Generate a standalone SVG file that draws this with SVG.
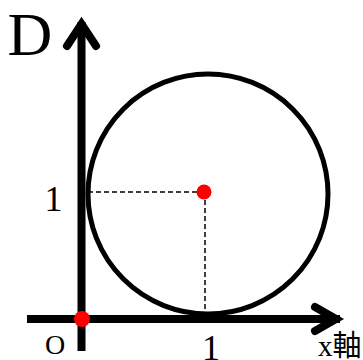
<svg xmlns="http://www.w3.org/2000/svg" width="363" height="360" viewBox="0 0 363 360">
<style>
.axis{stroke:#000;stroke-width:8;fill:none}
.head{stroke:#000;stroke-width:8;fill:none;stroke-linecap:round;stroke-linejoin:miter;stroke-miterlimit:10}
.dash{stroke:#000;stroke-width:1.5;stroke-dasharray:5 3;fill:none}
.pt{fill:#ff0000}
.lbl{font-family:"Liberation Serif","Noto Sans CJK JP",serif;fill:#000}
</style>
<rect width="363" height="360" fill="#fff"/>
<g id="circle-node">
<circle cx="208" cy="194" r="120" fill="none" stroke="#000" stroke-width="5"/>
</g>
<g id="connectors">
<line class="dash" x1="88" y1="192" x2="204" y2="192"/>
<line class="dash" x1="205" y1="192" x2="205" y2="315"/>
<line class="axis" x1="81.5" y1="351" x2="81.5" y2="22"/>
<polyline class="head" points="67,46 81.5,24 96,46"/>
<line class="axis" x1="27" y1="319" x2="340" y2="319"/>
<polyline class="head" points="315,307 336,319 315,331"/>
</g>
<g id="center-point"><circle class="pt" cx="204" cy="192" r="7.5"/></g>
<g id="origin-point"><circle class="pt" cx="82" cy="319" r="8"/></g>
<g id="labels">
<text class="lbl" x="30" y="55" font-size="62" text-anchor="middle">D</text>
<text class="lbl" x="53.5" y="211" font-size="36" text-anchor="middle">1</text>
<text class="lbl" x="55" y="353.5" font-size="28" text-anchor="middle">O</text>
<text class="lbl" x="211" y="360" font-size="36" text-anchor="middle">1</text>
<text class="lbl" x="318" y="356" font-size="29">x軸</text>
</g>
</svg>
